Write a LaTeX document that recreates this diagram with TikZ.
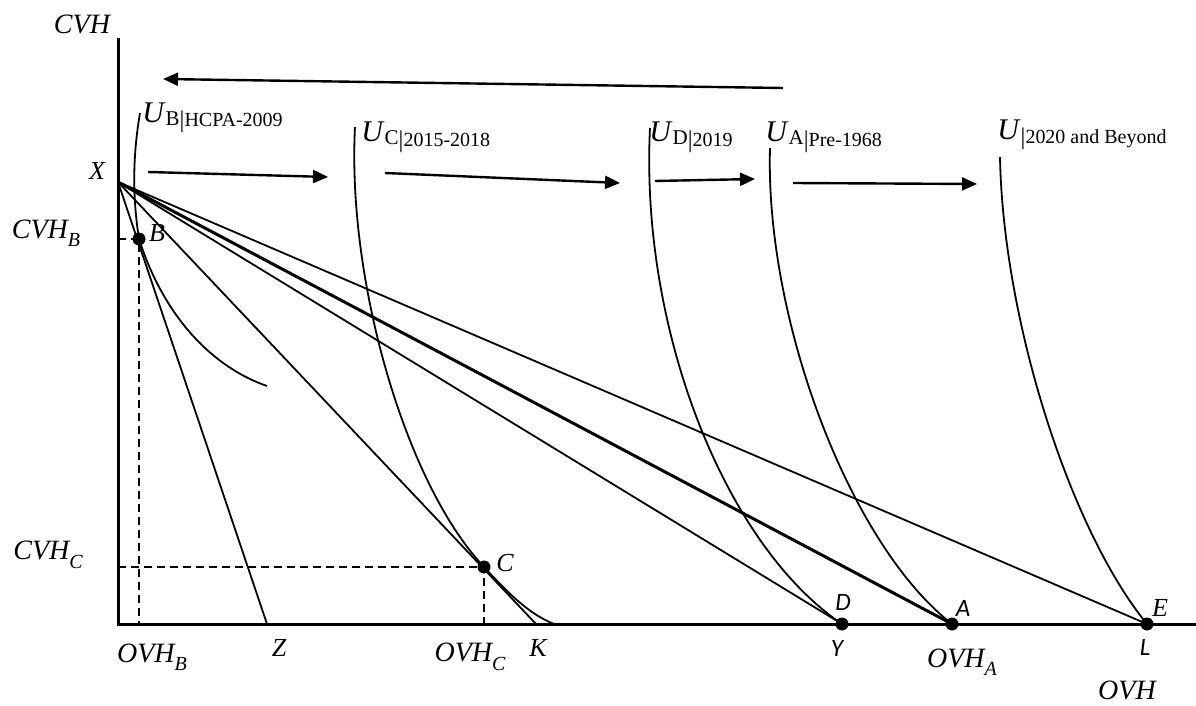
\documentclass[tikz,border=0pt]{standalone}
\usepackage{fontspec}
\setmainfont{Liberation Serif}
\newfontfamily\calibrifont{Carlito}
\usetikzlibrary{arrows.meta, positioning, calc}

\newcommand{\lowsub}[1]{\raisebox{-0.3em}{\fontsize{10}{10}\selectfont #1}}
\newcommand{\ulabel}[2]{\textit{U}\raisebox{-1.5pt}{\fontsize{10.5}{10}\selectfont #1}\raisebox{-2.5pt}{\fontsize{12}{12}\selectfont |}\raisebox{-2pt}{\fontsize{10}{10}\selectfont #2}}

\begin{document}
\begin{tikzpicture}[
    x=0.5pt, y=-0.5pt,
    axis/.style={line width=1.5pt},
    budget/.style={line width=0.9pt},
    curve/.style={line width=0.9pt},
    guide/.style={line width=0.9pt, dash pattern=on 4pt off 2.5pt},
    movearrow/.style={-{Triangle[length=7.5pt, width=6.5pt]}, line width=1.2pt},
    dot/.style={circle, fill=black, inner sep=0pt, minimum size=6.5pt},
    axlabel/.style={font=\fontsize{14}{14}\selectfont\itshape, inner sep=0pt},
    ptlabel/.style={font=\fontsize{13}{13}\selectfont\itshape, inner sep=0pt},
    sflabel/.style={font=\fontsize{12.5}{12.5}\selectfont\calibrifont\itshape, inner sep=0pt},
    ulab/.style={font=\fontsize{15}{15}\selectfont, inner sep=0pt, anchor=base west}
]
\useasboundingbox (0,0) rectangle (1196,706);

%% Axes
\coordinate (O) at (118,624);
\coordinate (top) at (118,38);
\coordinate (right) at (1196,624);
\draw[axis] (top) -- (O) -- (right);

%% Points
\coordinate (X) at (118,182);
\coordinate (Z) at (267,624);
\coordinate (K) at (536,624);
\coordinate (B) at (139,239);
\coordinate (C) at (484,567);
\coordinate (D) at (842,624);
\coordinate (A) at (952,624);
\coordinate (E) at (1147,624);

%% Budget lines
\draw[budget] (X) -- (Z);
\draw[budget] (X) -- (K);
\draw[budget] (X) -- (D);
\draw[line width=1.5pt] (X) -- (A);
\draw[budget] (X) -- (E);

%% Dashed guides
\draw[guide] (O |- B) -- (B) -- (B |- O);
\draw[guide] (O |- C) -- (C) -- (C |- O);

%% Indifference curves
\draw[curve] (140,113) .. controls (132,160) and (133,200) .. (B)
    .. controls (165,320) and (215,368) .. (267,386);
\draw[curve] (355,127) .. controls (347,280) and (405,483) .. (C)
    .. controls (509,594) and (529,614) .. (554,624);
\draw[curve] (650,128) .. controls (640,330) and (725,545) .. (D);
\draw[curve] (770,148) .. controls (765,320) and (850,545) .. (A);
\draw[curve] (1000,157) .. controls (1003,320) and (1070,530) .. (E);

%% Shift arrows
\coordinate (back s) at (783,88);
\coordinate (back t) at (163,79);
\coordinate (s1) at (148,172);
\coordinate (t1) at (328,177);
\coordinate (s2) at (385,173);
\coordinate (t2) at (620,183);
\coordinate (s3) at (655,181);
\coordinate (t3) at (755,179);
\coordinate (s4) at (793,183);
\coordinate (t4) at (977,184);
\draw[movearrow] (back s) -- (back t);
\draw[movearrow] (s1) -- (t1);
\draw[movearrow] (s2) -- (t2);
\draw[movearrow] (s3) -- (t3);
\draw[movearrow] (s4) -- (t4);

%% Dots
\node[dot] (dotB) at (B) {};
\node[dot] (dotC) at (C) {};
\node[dot] (dotD) at (D) {};
\node[dot] (dotA) at (A) {};
\node[dot] (dotE) at (E) {};

%% Labels
\node[axlabel] (cvh) at (82,24) {CVH};
\node[axlabel] (cvhb) at (46,233) {CVH\lowsub{B}};
\node[axlabel] (cvhc) at (48,555) {CVH\lowsub{C}};
\node[axlabel] (ovhb) at (152,657) {OVH\lowsub{B}};
\node[axlabel] (ovhc) at (470,657) {OVH\lowsub{C}};
\node[axlabel] (ovha) at (962,662) {OVH\lowsub{A}};
\node[axlabel] (ovh) at (1127,690) {OVH};
\node[ptlabel] (labX) at (97,171) {X};
\node[ptlabel] (labB) at (157,233) {B};
\node[ptlabel] (labC) at (505,563) {C};
\node[ptlabel] (labZ) at (279,648) {Z};
\node[ptlabel] (labK) at (538,648) {K};
\node[ptlabel] (labE) at (1160,608) {E};
\node[sflabel] (labD) at (843,602) {D};
\node[sflabel] (labY) at (837,648) {Y};
\node[sflabel] (labA) at (963,608) {A};
\node[sflabel] (labL) at (1145,647) {L};

\node[ulab] (ub) at (142,123) {\ulabel{B}{HCPA-2009}};
\node[ulab] (uc) at (361,142) {\ulabel{C}{2015-2018}};
\node[ulab] (ud) at (649,142) {\ulabel{D}{2019}};
\node[ulab] (ua) at (765,142) {\ulabel{A}{Pre-1968}};
\node[ulab] (ue) at (997,140) {\ulabel{}{2020 and Beyond}};

\end{tikzpicture}
\end{document}
